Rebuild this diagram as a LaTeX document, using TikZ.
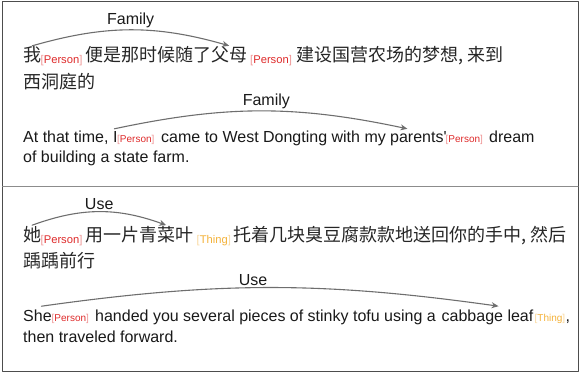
\documentclass[tikz,border=0pt]{standalone}
\usepackage{fontspec}
\setmainfont{Liberation Sans}
\newfontfamily\zhfont{Noto Sans CJK SC}
\usepackage{xcolor}
\definecolor{relgray}{HTML}{6E6E6E}
\definecolor{framegray}{HTML}{4D4D4D}
\definecolor{rulegray}{HTML}{8C8C8C}
\definecolor{perred}{HTML}{DE2B2B}
\definecolor{thingorange}{HTML}{F4B23A}
\usepackage{tikz}
\usetikzlibrary{arrows.meta}
\tikzset{
  >={Stealth[length=7pt,width=6pt]},
  every picture/.style={line cap=round, line join=round},
  en/.style={font=\fontsize{16}{18}\selectfont, text=black!90,
    inner xsep=0pt, inner ysep=3pt, anchor=base west},
  zh/.style={font=\zhfont\fontsize{18}{20}\selectfont, text=black!85,
    inner xsep=0pt, inner ysep=1pt, anchor=base west},
  zhtag/.style={font=\fontsize{11.2}{12}\selectfont, inner sep=0pt, anchor=base west},
  entag/.style={font=\fontsize{10}{11}\selectfont, inner sep=0pt, anchor=base west},
  rel/.style={relgray, line width=1.1pt, ->},
  rellbl/.style={font=\fontsize{16}{18}\selectfont, text=black!90, midway,
    above=1.5pt, inner sep=0.5pt},
}
\newcommand{\enttag}[2]{\textcolor{#1!50}{[}\textcolor{#1}{#2}\textcolor{#1!50}{]}}

\begin{document}
\begin{tikzpicture}[x=1pt, y=1pt]
\useasboundingbox (0,0) rectangle (581,-374);
\draw[framegray, line width=1pt] (2.5,-2) rectangle (578,-371);
\draw[rulegray, line width=1pt] (2.5,-186.5) -- (578,-186.5);

% ------------------------------------------------------------- family
\node[zh] (wo) at (23,-62) {我};
\node[zhtag] (wotag) at (40.5,-64) {\enttag{perred}{Person}};
\node[zh] (bianshi) at (85,-62) {便是那时候随了};
\node[zh] (fumu) at (211,-62) {父母};
\node[zhtag] (fumutag) at (250,-64) {\enttag{perred}{Person}};
\node[zh] (jianshe) at (296,-62) {建设国营农场的梦想, 来到};
\node[zh] (xidt) at (23,-89) {西洞庭的};
\draw[rel] (wo.north) to[bend left=16] node[rellbl] {Family} (fumu.north);

\node[en] (attime) at (23,-143) {At that time,};
\node[en] (ego) at (113,-143) {I};
\node[entag] (egotag) at (117,-143) {\enttag{perred}{Person}};
\node[en] (came) at (161,-143) {came to West Dongting with my};
\node[en] (parents) at (390,-143) {parents\textquotesingle};
\node[entag] (parentstag) at (445.5,-143) {\enttag{perred}{Person}};
\node[en] (dream) at (489,-143) {dream};
\node[en] (farm) at (23,-163) {of building a state farm.};
\draw[rel] ([xshift=-1pt]ego.north) to[bend left=12]
  node[rellbl, pos=0.52] {Family} ([xshift=-11pt]parents.north);

% ------------------------------------------------------------- use
\node[zh] (ta) at (23,-241.5) {她};
\node[zhtag] (tatag) at (40.5,-243.5) {\enttag{perred}{Person}};
\node[zh] (yong) at (85,-241.5) {用一片};
\node[zh] (qcy) at (139,-241.5) {青菜叶};
\node[zhtag] (qcytag) at (196.5,-243.5) {\enttag{thingorange}{Thing}};
\node[zh] (tuo) at (233,-241.5) {托着几块臭豆腐款款地送回你的手中, 然后};
\node[zh] (jyqx) at (23,-268) {踽踽前行};
\draw[rel] (ta.north) to[bend left=20] node[rellbl] {Use} (qcy.north);

\node[en] (she) at (23,-321) {She};
\node[entag] (shetag) at (51.5,-321) {\enttag{perred}{Person}};
\node[en] (handed) at (95,-321) {handed you several pieces of stinky tofu using a};
\node[en] (leaf) at (441.5,-321) {cabbage leaf};
\node[entag] (leaftag) at (534.5,-321) {\enttag{thingorange}{Thing}};
\node[en] (comma) at (565.5,-321) {,};
\node[en] (travel) at (23,-342) {then traveled forward.};
\draw[rel] ([xshift=4pt]she.north) to[bend left=8]
  node[rellbl, pos=0.46] {Use} ([xshift=11pt]leaf.north);
\end{tikzpicture}
\end{document}
